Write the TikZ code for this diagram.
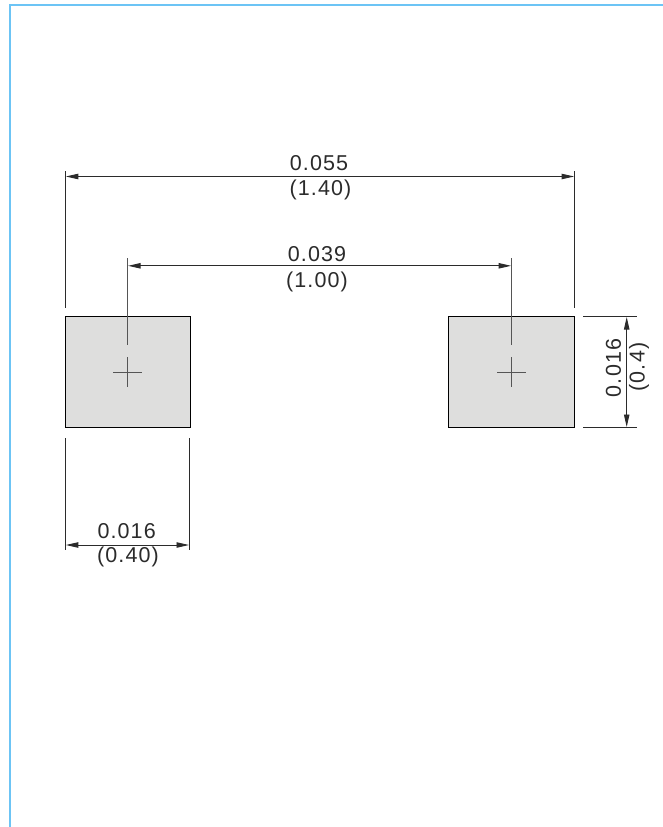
\documentclass[tikz,border=0pt]{standalone}
\usepackage{fontspec}
\setmainfont{Liberation Sans}
\newfontfamily\dimfont[LetterSpace=5]{Liberation Sans}
\usetikzlibrary{arrows.meta}
\definecolor{edgeblue}{HTML}{6CC4F5}
\definecolor{padgrey}{HTML}{DEDEDD}
\definecolor{inkc}{HTML}{2B2B2B}
\tikzset{
  x=1pt,y=-1pt,
  frameline/.style={draw=edgeblue,line width=2pt},
  pad/.style={draw=black,fill=padgrey,line width=1.1pt,rectangle,inner sep=0pt,minimum width=125.5pt,minimum height=111pt},
  extline/.style={draw=inkc,line width=0.95pt},
  thinline/.style={draw=inkc!80,line width=0.95pt},
  dimline/.style={draw=inkc,line width=0.95pt,{Triangle[length=12.5pt,width=5.4pt]}-{Triangle[length=12.5pt,width=5.4pt]},shorten <=0.5pt,shorten >=0.5pt},
  dimtext/.style={inner sep=0pt,text=inkc,font=\fontsize{21.5}{23}\dimfont}
}
\begin{document}
\begin{tikzpicture}
\useasboundingbox (0,0) rectangle (663,827);
\coordinate (fbl) at (9.5,827);
\coordinate (ftl) at (9.5,4.5);
\coordinate (ftr) at (663,4.5);
\draw[frameline] (fbl) -- (ftl) -- (ftr);

\node[pad] (padL) at (127.8,372) {};
\node[pad] (padR) at (511.6,372) {};

% outer width
\coordinate (o1a) at (65.3,171); \coordinate (o1b) at (65.3,308);
\coordinate (o2a) at (574.6,171); \coordinate (o2b) at (574.6,308);
\coordinate (oL) at (65.3,176.5); \coordinate (oR) at (574.6,176.5);
\draw[extline] (o1a) -- (o1b);
\draw[extline] (o2a) -- (o2b);
\draw[dimline] (oL) -- (oR);
\node[dimtext] (t055) at (319,163) {0.055};
\node[dimtext] (t140) at (320.5,189.5) {(1.40)};

% pitch
\coordinate (i1a) at (127.6,258); \coordinate (i1b) at (127.6,345);
\coordinate (i2a) at (511.6,258); \coordinate (i2b) at (511.6,345);
\coordinate (iL) at (127.6,265.8); \coordinate (iR) at (511.6,265.8);
\draw[thinline] (i1a) -- (i1b);
\draw[thinline] (i2a) -- (i2b);
\draw[dimline] (iL) -- (iR);
\node[dimtext] (t039) at (317,254) {0.039};
\node[dimtext] (t100) at (317,281.5) {(1.00)};

% centre crosses
\coordinate (c1l) at (113.4,372); \coordinate (c1r) at (142,372);
\coordinate (c1t) at (127.6,357); \coordinate (c1b) at (127.6,387);
\coordinate (c2l) at (497.3,372); \coordinate (c2r) at (526,372);
\coordinate (c2t) at (511.6,357); \coordinate (c2b) at (511.6,387);
\draw[thinline] (c1l) -- (c1r);
\draw[thinline] (c1t) -- (c1b);
\draw[thinline] (c2l) -- (c2r);
\draw[thinline] (c2t) -- (c2b);

% pad height
\coordinate (h1a) at (583,316.5); \coordinate (h1b) at (637,316.5);
\coordinate (h2a) at (583,427.5); \coordinate (h2b) at (637,427.5);
\coordinate (hT) at (626.7,316.5); \coordinate (hB) at (626.7,427.5);
\draw[extline] (h1a) -- (h1b);
\draw[extline] (h2a) -- (h2b);
\draw[dimline] (hT) -- (hB);
\node[dimtext,rotate=90] (t016r) at (613.5,368) {0.016};
\node[dimtext,rotate=90] (t04) at (639,367) {(0.4)};

% pad width
\coordinate (w1a) at (65.3,438); \coordinate (w1b) at (65.3,550);
\coordinate (w2a) at (189.5,438); \coordinate (w2b) at (189.5,550);
\coordinate (wL) at (65.3,545); \coordinate (wR) at (189.5,545);
\draw[extline] (w1a) -- (w1b);
\draw[extline] (w2a) -- (w2b);
\draw[dimline] (wL) -- (wR);
\node[dimtext] (t016b) at (126.7,530.7) {0.016};
\node[dimtext] (t040) at (128,556.5) {(0.40)};
\end{tikzpicture}
\end{document}
